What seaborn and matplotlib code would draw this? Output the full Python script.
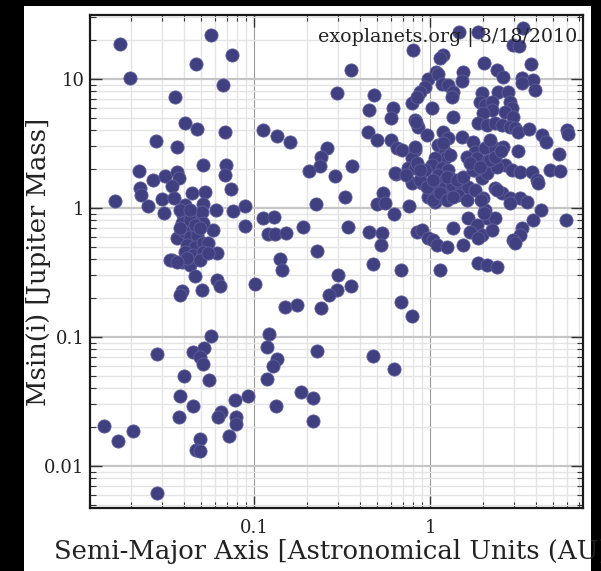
import matplotlib
matplotlib.use("Agg")
import matplotlib.pyplot as plt
import seaborn as sns
import pandas as pd
from matplotlib.patches import Rectangle
from matplotlib.ticker import LogLocator, FixedLocator, FixedFormatter, NullFormatter

# Semi-major axis [AU] and Msin(i) [Jupiter masses]
semi_major_axis = [
    0.0173, 0.057, 0.075, 0.0468, 0.0197, 0.0666, 0.0356, 0.0405, 0.0474, 0.0684,
    0.1125, 0.0277, 0.0365, 0.0513, 0.0693, 0.0684, 0.0222, 0.0268, 0.0312, 0.0365,
    0.0375, 0.0342, 0.0740, 0.0225, 0.0228, 0.0162, 0.0444, 0.0527, 0.0299, 0.0351,
    0.0250, 0.0308, 0.0405, 0.0513, 0.0608, 0.0760, 0.0889, 0.0889, 0.0585, 0.0616,
    0.0395, 0.0390, 0.0474, 0.0506, 0.0513, 0.0365, 0.0405, 0.0433, 0.0474, 0.0416,
    0.0462, 0.0513, 0.0548, 0.0405, 0.0450, 0.0513, 0.0342, 0.0390, 0.0433, 0.0416,
    0.0333, 0.0365, 0.0462, 0.0616, 0.0640, 0.0506, 0.0390, 0.0380, 0.0433, 0.0462,
    0.0380, 0.0493, 0.0493, 0.0548, 0.0380, 0.0433,
    0.057, 0.0282, 0.0450, 0.0520, 0.0493, 0.0513, 0.0400, 0.0555, 0.0380, 0.0450,
    0.0375, 0.0780, 0.0925, 0.0649, 0.0624, 0.0791, 0.0791, 0.0721, 0.0493, 0.0468,
    0.0493, 0.01406, 0.0169, 0.0205, 0.0282,
    0.135, 0.160, 0.260, 0.240, 0.237, 0.205, 0.360, 0.288, 0.329, 0.225,
    0.1125, 0.130, 0.120, 0.1316, 0.152, 0.190, 0.342, 0.1406, 0.1442, 0.1013,
    0.228, 0.474, 0.684, 1.14, 0.300, 0.356, 0.296, 0.267, 0.150, 0.1755,
    0.240, 0.684, 0.790, 0.1217, 0.1186, 0.135, 0.128, 0.228, 0.474, 0.624,
    0.1186, 0.185, 0.216, 0.1334, 0.216, 0.356, 0.296, 0.48, 0.450, 0.617,
    0.600, 0.790, 0.445, 0.500, 0.600, 0.649, 0.693, 0.640, 0.541, 0.500,
    0.555, 0.760, 0.624, 0.843, 0.450, 0.534, 0.527, 0.800,
    1.462, 1.874, 3.378, 2.962, 3.205, 1.186, 1.140, 2.026, 3.752, 2.402,
    2.599, 1.081, 1.540, 1.520, 0.975, 1.110, 1.170, 1.266, 1.352, 1.334,
    3.334, 3.852, 3.955, 0.937, 0.877, 1.974, 1.923, 2.053, 2.434, 2.773,
    2.847, 2.923, 2.668, 2.250, 2.250, 2.000, 1.026, 1.352, 2.962, 0.822,
    0.854, 0.962, 1.874, 2.108, 2.340, 2.565, 2.847, 3.041, 3.163, 3.655,
    4.336, 4.57, 6.006, 6.085, 1.186, 1.266, 1.520, 1.754, 0.822, 0.790,
    1.110, 1.217, 1.217, 1.067, 1.026, 1.802, 1.624, 1.849, 2.053, 2.340,
    2.599, 3.163, 5.408, 0.632, 0.750, 0.822, 0.937, 1.170, 1.266, 1.110,
    1.217, 1.300, 2.053, 1.974, 1.802, 2.136, 2.668, 2.923, 3.247, 3.802,
    4.060, 4.114, 4.809, 5.479, 0.790, 0.901, 1.067, 1.217, 1.334, 1.520,
    1.645, 0.975, 1.067, 1.266, 1.443, 1.624, 1.802, 2.340, 2.565, 2.847,
    3.247, 3.560, 2.000, 2.053, 2.108, 2.340, 1.645, 1.849, 1.974, 1.352,
    4.279, 3.852, 3.334, 3.247, 2.962, 3.041, 2.250, 0.901, 0.975, 1.040,
    1.096, 1.250, 5.928, 1.874, 2.108, 2.402, 0.877, 0.962, 1.040, 1.140,
    1.250, 1.352, 1.040, 1.250, 1.424, 1.540, 1.754, 2.108, 2.402, 2.40,
    2.192, 2.340, 1.688, 1.923, 0.843, 0.877, 0.731, 1.186, 0.822, 0.832,
    2.531, 2.026, 1.688, 1.874, 2.847, 1.949, 3.334, 0.843, 2.192, 1.300,
    1.540,
]
msini = [
    18.7, 21.9, 15.3, 13.1, 10.2, 8.98, 7.25, 4.56, 4.10, 3.88,
    4.02, 3.31, 2.97, 2.16, 2.16, 1.80, 1.94, 1.65, 1.77, 1.90,
    1.71, 1.48, 1.40, 1.43, 1.26, 1.13, 1.31, 1.33, 1.17, 1.20,
    1.04, 0.914, 1.05, 1.07, 0.964, 0.948, 1.04, 0.725, 0.675, 0.448,
    0.882, 0.765, 0.882, 0.931, 0.765, 0.585, 0.651, 0.596, 0.618, 0.516,
    0.498, 0.535, 0.535, 0.456, 0.432, 0.456, 0.395, 0.381, 0.362, 0.410,
    0.395, 0.381, 0.297, 0.277, 0.249, 0.231, 0.227, 0.212, 0.807, 0.738,
    0.700, 0.700, 0.395, 0.448, 0.964, 0.964,
    0.102, 0.0738, 0.0765, 0.082, 0.070, 0.0618, 0.0499, 0.0464, 0.0349, 0.0292,
    0.0240, 0.0325, 0.0349, 0.0262, 0.0240, 0.0240, 0.0212, 0.0171, 0.0162, 0.0133,
    0.0131, 0.0204, 0.0156, 0.0187, 0.0062,
    3.62, 3.25, 2.92, 2.49, 2.12, 1.94, 2.12, 1.77, 1.22, 1.07,
    0.836, 0.85, 0.629, 0.629, 0.640, 0.712, 0.712, 0.40, 0.331, 0.258,
    0.46, 0.368, 0.331, 0.331, 0.303, 0.249, 0.231, 0.212, 0.171, 0.177,
    0.168, 0.187, 0.146, 0.1055, 0.0836, 0.0675, 0.0596, 0.0778, 0.0712, 0.0565,
    0.0472, 0.0375, 0.0337, 0.0292, 0.0223, 11.7, 7.79, 7.52, 5.75, 5.9,
    4.99, 6.51, 3.88, 3.37, 3.37, 2.92, 2.82, 1.84, 1.31, 1.07,
    1.09, 1.04, 0.898, 0.651, 0.651, 0.640, 0.516, 16.8,
    23.1, 23.1, 24.8, 18.3, 18.0, 15.3, 14.5, 13.3, 13.1, 11.7,
    10.4, 11.3, 11.3, 9.65, 10.0, 10.9, 9.15, 8.98, 7.93, 7.25,
    10.2, 9.82, 8.22, 8.67, 7.93, 7.79, 6.63, 6.29, 7.93, 7.93,
    6.63, 5.96, 5.55, 6.63, 5.75, 5.45, 5.96, 5.08, 5.08, 4.81,
    4.25, 3.68, 4.56, 4.40, 4.56, 4.40, 4.25, 4.17, 3.88, 4.10,
    3.68, 3.25, 4.02, 3.75, 3.88, 3.49, 3.55, 3.25, 2.82, 2.44,
    3.08, 2.72, 2.44, 2.44, 2.16, 2.72, 2.49, 2.44, 2.92, 2.92,
    2.97, 2.77, 2.62, 1.87, 2.04, 2.04, 1.97, 2.04, 1.97, 1.80,
    1.65, 1.71, 2.08, 1.71, 1.97, 2.36, 2.16, 1.97, 1.90, 1.90,
    1.65, 1.56, 1.97, 1.94, 1.56, 1.56, 1.46, 1.46, 1.51, 1.43,
    1.46, 1.22, 1.11, 1.20, 1.26, 1.15, 1.38, 1.43, 1.31, 1.20,
    1.20, 1.11, 1.20, 0.964, 0.836, 0.836, 0.836, 0.738, 0.618, 0.700,
    0.964, 0.807, 0.700, 0.618, 0.565, 0.535, 0.675, 0.675, 0.585, 0.565,
    0.516, 0.498, 0.807, 0.375, 0.362, 0.349, 1.65, 1.46, 1.15, 1.31,
    1.15, 1.22, 1.65, 1.74, 1.65, 1.74, 1.97, 1.87, 1.38, 2.08,
    2.36, 2.49, 2.23, 2.08, 2.23, 1.97, 1.80, 3.19, 2.97, 4.64,
    2.77, 0.914, 0.651, 0.585, 1.09, 1.15, 9.3, 7.25, 3.37, 2.58,
    0.516,
]

x_ticks = [0.01, 0.1, 1, 10]
x_tick_labels = ["0.01", "0.1", "1", "10"]
y_ticks = [0.01, 0.1, 1, 10]
y_tick_labels = ["0.01", "0.1", "1", "10"]
x_label = "Semi-Major Axis [Astronomical Units (AU)]"
y_label = "Msin(i) [Jupiter Mass]"
credit = "exoplanets.org | 3/18/2010"

df = pd.DataFrame({"a": semi_major_axis, "m": msini})

sns.set_theme(style="ticks")
plt.rcParams["font.family"] = ["DejaVu Serif"]

fig = plt.figure(figsize=(6.01, 5.71), dpi=100, facecolor="black")
bg = Rectangle((24 / 601, 0), (591 - 24) / 601, 565 / 571,
               transform=fig.transFigure, facecolor="white",
               edgecolor="none", zorder=-10)
fig.add_artist(bg)
ax = fig.add_axes([90 / 601, 1 - 508 / 571, 493 / 601, 493 / 571])
ax.set_zorder(5)
ax.set_facecolor("white")

sns.scatterplot(data=df, x="a", y="m", ax=ax, s=90, color="#404081",
                edgecolor="#5e5e9a", linewidth=0.6, zorder=3, legend=False)

ax.set_xscale("log")
ax.set_yscale("log")
ax.set_xlim(0.01169, 7.40)
ax.set_ylim(0.00472, 31.3)

ax.xaxis.set_major_locator(FixedLocator(x_ticks))
ax.xaxis.set_major_formatter(FixedFormatter(x_tick_labels))
ax.yaxis.set_major_locator(FixedLocator(y_ticks))
ax.yaxis.set_major_formatter(FixedFormatter(y_tick_labels))
ax.xaxis.set_minor_locator(LogLocator(base=10, subs=range(2, 10)))
ax.yaxis.set_minor_locator(LogLocator(base=10, subs=range(2, 10)))
ax.xaxis.set_minor_formatter(NullFormatter())
ax.yaxis.set_minor_formatter(NullFormatter())

ax.set_axisbelow(True)
ax.grid(which="minor", color="#e4e4e4", linewidth=1.0)
ax.grid(which="major", axis="x", color="#9a9a9a", linewidth=0.8)
ax.grid(which="major", axis="y", color="#c6c6c6", linewidth=1.6)

ax.tick_params(which="both", direction="in", top=True, right=True,
               color="#333333", labelcolor="#222222", labelsize=13)
ax.tick_params(which="major", length=8.5, width=1.0)
ax.tick_params(which="minor", length=4, width=0.8)
ax.tick_params(axis="x", which="major", pad=8)
ax.tick_params(axis="y", which="major", pad=4)

for sp in ax.spines.values():
    sp.set_linewidth(1.6)
    sp.set_color("#1a1a1a")

ax.set_xlabel(x_label, fontsize=18.6, color="#222222")
ax.set_ylabel(y_label, fontsize=18.6, color="#222222")
ax.xaxis.set_label_coords(0.5, -0.062)
ax.yaxis.set_label_coords(-0.08, 0.5)

ax.text(0.988, 0.955, credit, transform=ax.transAxes, ha="right", va="center",
        fontsize=13.7, color="#222222", zorder=5)

fig.savefig("out.png", dpi=100, facecolor=fig.get_facecolor())
